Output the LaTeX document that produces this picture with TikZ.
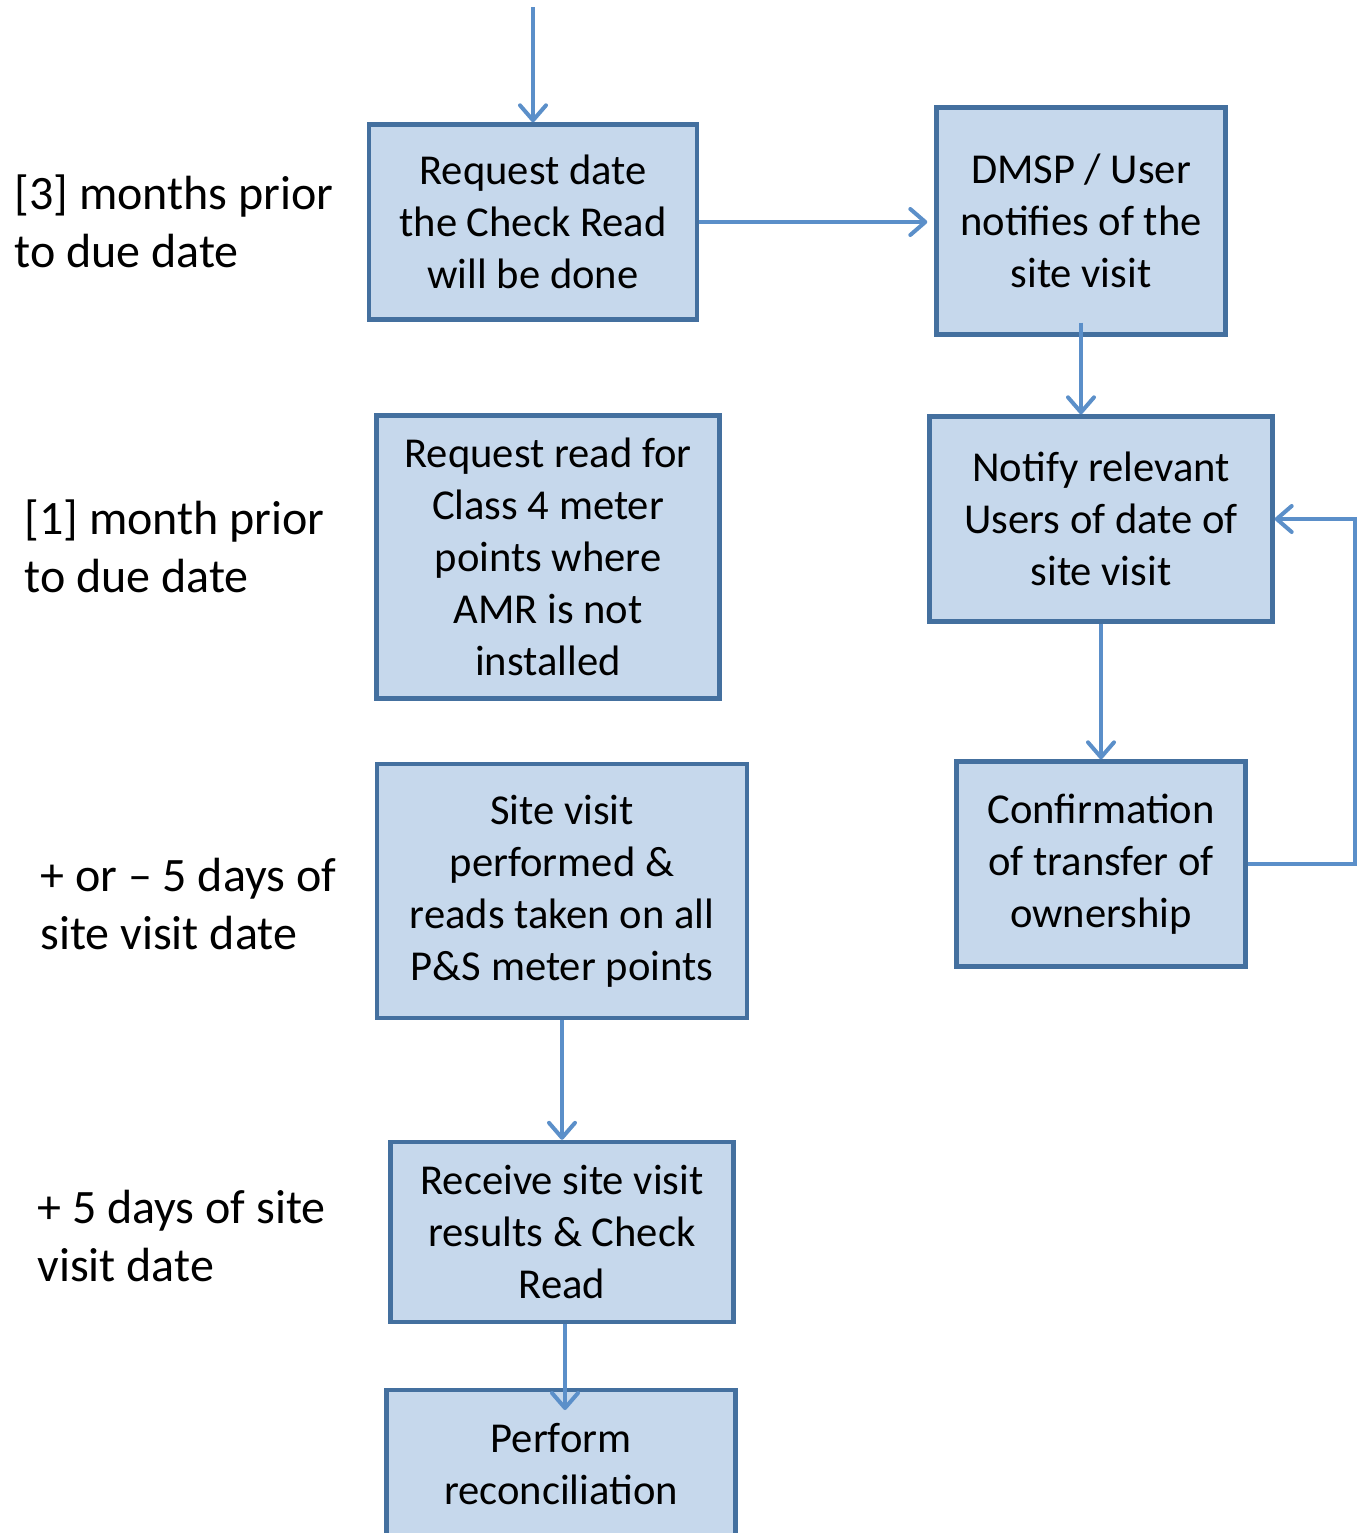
\documentclass[tikz,border=0pt]{standalone}
\usepackage{fontspec}
\setmainfont{Carlito}
\usetikzlibrary{arrows.meta}
\definecolor{boxfill}{HTML}{C6D8EC}
\definecolor{boxline}{HTML}{44709F}
\definecolor{arrowcol}{HTML}{5B8FC9}
\begin{document}
\begin{tikzpicture}[x=0.5pt,y=-0.5pt,
  stepbox/.style={draw=boxline, fill=boxfill, line width=2.2pt, align=center,
    inner sep=0pt, font=\fontsize{21.3}{26}\selectfont},
  sidelabel/.style={anchor=west, align=left, inner sep=0pt,
    font=\fontsize{24}{29}\selectfont},
  flow/.style={draw=arrowcol, line width=2pt,
    -{Straight Barb[length=7.5pt,width=13pt,line cap=round,line join=round]}}]
\useasboundingbox (0,0) rectangle (1363,1533);
\begin{scope}
\clip (0,0) rectangle (1363,1533);
% boxes
\node[stepbox, minimum width=164pt, minimum height=97.5pt] (b1) at (533,222)
  {Request date\\the Check Read\\will be done};
\node[stepbox, minimum width=144.5pt, minimum height=113.5pt] (b2) at (1081,221)
  {DMSP / User\\notifies of the\\site visit};
\node[stepbox, minimum width=171.5pt, minimum height=141.5pt] (b3) at (548,557)
  {Request read for\\Class 4 meter\\points where\\AMR is not\\installed};
\node[stepbox, minimum width=171.5pt, minimum height=102.5pt] (b4) at (1101,519)
  {Notify relevant\\Users of date of\\site visit};
\node[stepbox, minimum width=185pt, minimum height=127pt] (b5) at (562,891)
  {Site visit\\performed \&\\reads taken on all\\P\&S meter points};
\node[stepbox, minimum width=144.5pt, minimum height=102.5pt] (b6) at (1101,864)
  {Confirmation\\of transfer of\\ownership};
\node[stepbox, minimum width=171.5pt, minimum height=90pt] (b7) at (562,1232)
  {Receive site visit\\results \& Check\\Read};
\node[stepbox, minimum width=174.5pt, minimum height=74pt] (b8) at (561,1464)
  {Perform\\reconciliation};
% side labels
\node[sidelabel] (l1) at (14,221) {[3] months prior\\to due date};
\node[sidelabel] (l2) at (24,546) {[1] month prior\\to due date};
\node[sidelabel] (l3) at (40,904) {+ or – 5 days of\\site visit date};
\node[sidelabel] (l4) at (37,1236) {+ 5 days of site\\visit date};
% connectors
\coordinate (topin) at (533,7);
\draw[flow] (topin) -- (b1.north);
\draw[flow] (b1.east) -- ([xshift=-3.5pt]b2.west |- b1.east);
\draw[flow] ([yshift=7pt]b2.south) -- (b4.north -| b2.south);
\draw[flow] (b4.south) -- (b6.north);
\coordinate (loopr) at (1355,864);
\draw[flow] (b6.east) -- (loopr) -- (loopr |- b4.east) -- (b4.east);
\draw[flow] (b5.south) -- (b7.north);
\coordinate (b8in) at (565,1410);
\draw[flow] (b7.south -| b8in) -- (b8in);
\end{scope}
\end{tikzpicture}
\end{document}
